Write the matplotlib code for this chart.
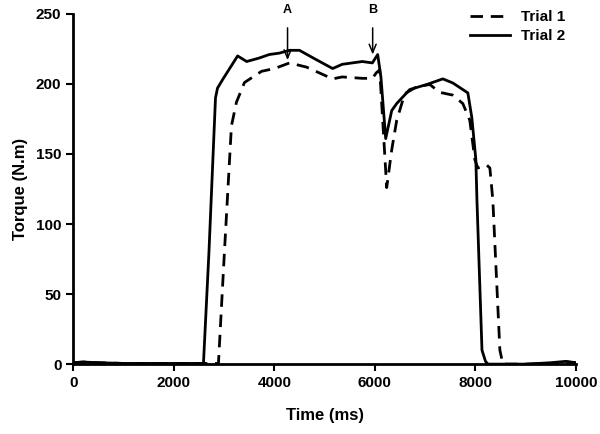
import matplotlib
matplotlib.use("Agg")
import matplotlib.pyplot as plt

plt.rcParams['font.family'] = ['Liberation Sans', 'DejaVu Sans']
plt.rcParams['font.weight'] = 'bold'

# Trial 1 (dashed)
t1_time = [0, 200, 500, 1000, 2000, 2850, 2888, 3000, 3147, 3247, 3406, 3745, 4004, 4303,
           4641, 5159, 5350, 5750, 5950, 6030, 6096, 6235, 6335, 6434, 6594, 6833, 7092,
           7291, 7550, 7749, 7888, 7988, 8048, 8227, 8287, 8346, 8486, 8546, 9000, 9500,
           9800, 10000]
t1_torque = [1, 1.5, 1, 0.5, 0.5, 0.5, 0, 75, 170, 187, 201, 209, 211, 215,
             212, 203.6, 205, 204, 204, 208, 210, 126, 153, 174, 193, 198, 199.6,
             194, 192, 186, 174, 146, 140, 142, 140, 117, 10, 0, 0, 0.5,
             1.5, 1]

# Trial 2 (solid)
t2_time = [0, 200, 500, 1000, 2000, 2550, 2590, 2700, 2830, 2870, 2970, 3270, 3450, 3700,
           3900, 4100, 4300, 4500, 4800, 5160, 5350, 5750, 5950, 6056, 6120, 6215, 6335,
           6434, 6693, 7032, 7351, 7550, 7849, 7928, 8008, 8030, 8130, 8200, 8250, 8400,
           9000, 9500, 9800, 10000]
t2_torque = [1, 1.5, 1, 0.5, 0.5, 0.5, 0, 80, 190, 197, 203, 220, 216, 218.5,
             221, 222, 224, 224, 218, 211, 214, 216, 215, 221, 205, 161, 181,
             186, 196, 199.6, 203.6, 200.7, 193.6, 176, 146, 117, 10, 2, 0, 0,
             0, 1, 2, 1]

x_ticks = [0, 2000, 4000, 6000, 8000, 10000]
y_ticks = [0, 50, 100, 150, 200, 250]
markers = [("A", 4263, 215), ("B", 5956, 219)]

fig = plt.figure(figsize=(6, 4.34), dpi=100)
ax = fig.add_axes([0.122, 0.161, 0.838, 0.807])

ax.plot(t1_time, t1_torque, color='black', lw=2.0, ls=(0, (4.5, 2.8)), label='Trial 1')
ax.plot(t2_time, t2_torque, color='black', lw=2.0, ls='-', label='Trial 2')

for lab, xm, ym in markers:
    ax.annotate('', xy=(xm, ym), xytext=(xm, 242),
                arrowprops=dict(arrowstyle='->,head_length=0.6,head_width=0.25',
                                color='black', lw=1.1), annotation_clip=False)
    ax.text(xm, 253, lab, ha='center', va='center', fontsize=9, fontweight='bold', clip_on=False)

ax.set_xlim(0, 10000)
ax.set_ylim(0, 250)
ax.set_xticks(x_ticks)
ax.set_yticks(y_ticks)
ax.tick_params(direction='out', length=5, width=1.5, labelsize=11)
for lbl in ax.get_xticklabels() + ax.get_yticklabels():
    lbl.set_fontweight('bold')
for s in ['top', 'right']:
    ax.spines[s].set_visible(False)
for s in ['left', 'bottom']:
    ax.spines[s].set_linewidth(2)

ax.set_xlabel('Time (ms)', fontsize=12, fontweight='bold', labelpad=13)
ax.set_ylabel('Torque (N.m)', fontsize=12, fontweight='bold', labelpad=6)

leg = ax.legend(loc='upper right', bbox_to_anchor=(1.005, 1.05), frameon=False,
                fontsize=11, handlelength=2.6, handletextpad=0.7, labelspacing=0.35)
for t in leg.get_texts():
    t.set_fontweight('bold')

fig.savefig('out.png', dpi=100)
